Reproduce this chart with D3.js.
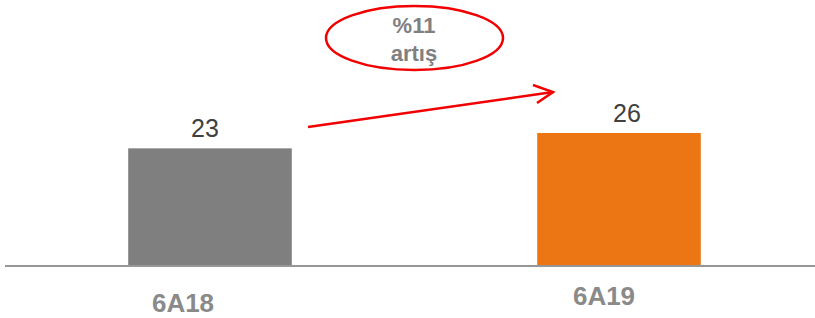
<!DOCTYPE html>
<html>
<head>
<meta charset="utf-8">
<script src="https://cdnjs.cloudflare.com/ajax/libs/d3/7.8.5/d3.min.js"></script>
<style>
  body { margin: 0; background: #fff; }
  text { font-family: "Liberation Sans", Arial, sans-serif; }
</style>
</head>
<body>
<svg id="chart" width="815" height="318"></svg>
<script>
var categories = ["6A18", "6A19"];
var values = [23, 26];
var barColors = ["#7f7f7f", "#ec7514"];
var growthLabel = ["%11", "artış"];

var svg = d3.select("#chart");
var baseY = 266;

var x = d3.scaleBand()
    .domain(categories)
    .range([5.5, 823.5])
    .paddingInner(0.6)
    .paddingOuter(0.3);

var y = d3.scaleLinear()
    .domain([0, 26])
    .range([baseY, 133]);

// bars
svg.selectAll("rect.bar")
    .data(values)
    .enter().append("rect")
    .attr("class", "bar")
    .attr("x", function(d, i) { return x(categories[i]); })
    .attr("y", function(d) { return y(d); })
    .attr("width", x.bandwidth())
    .attr("height", function(d) { return baseY - y(d); })
    .attr("fill", function(d, i) { return barColors[i]; });

// baseline
svg.append("line")
    .attr("x1", 5).attr("x2", 815)
    .attr("y1", baseY).attr("y2", baseY)
    .attr("stroke", "#979797")
    .attr("stroke-width", 2);

// value labels
var valueNudge = [-5, 8];
svg.selectAll("text.val")
    .data(values)
    .enter().append("text")
    .attr("class", "val")
    .attr("x", function(d, i) { return x(categories[i]) + x.bandwidth() / 2 + valueNudge[i]; })
    .attr("y", function(d) { return y(d) - 11; })
    .attr("text-anchor", "middle")
    .attr("font-size", 25)
    .attr("fill", "#404040")
    .text(function(d) { return d; });

// category labels (slightly off-centre in the original)
var catNudge = [[-27, 312], [-15, 305]];
svg.selectAll("text.cat")
    .data(categories)
    .enter().append("text")
    .attr("class", "cat")
    .attr("x", function(d, i) { return x(d) + x.bandwidth() / 2 + catNudge[i][0]; })
    .attr("y", function(d, i) { return catNudge[i][1]; })
    .attr("text-anchor", "middle")
    .attr("font-size", 26)
    .attr("font-weight", "bold")
    .attr("fill", "#8a8a8a")
    .text(function(d) { return d; });

// growth callout
svg.append("ellipse")
    .attr("cx", 414.5).attr("cy", 38)
    .attr("rx", 88.5).attr("ry", 32)
    .attr("fill", "none")
    .attr("stroke", "#f20000")
    .attr("stroke-width", 2.5);

svg.selectAll("text.growth")
    .data(growthLabel)
    .enter().append("text")
    .attr("class", "growth")
    .attr("x", 414)
    .attr("y", function(d, i) { return 33 + i * 28; })
    .attr("text-anchor", "middle")
    .attr("font-size", 22)
    .attr("font-weight", "bold")
    .attr("fill", "#808080")
    .text(function(d) { return d; });

// arrow
var tip = [553, 92];
svg.append("path")
    .attr("d", "M308,127L" + tip[0] + "," + tip[1])
    .attr("stroke", "#f20000").attr("stroke-width", 2.5).attr("fill", "none");
svg.append("path")
    .attr("d", "M533,85L" + tip[0] + "," + tip[1] + "L537,103")
    .attr("stroke", "#f20000").attr("stroke-width", 2.5).attr("fill", "none");
</script>
</body>
</html>
